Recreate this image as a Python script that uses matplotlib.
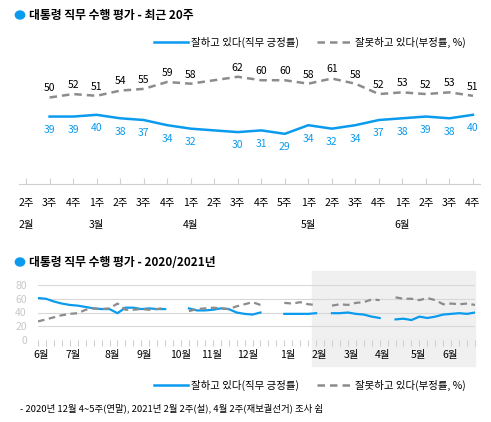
import matplotlib
matplotlib.use("Agg")
import matplotlib.pyplot as plt
import numpy as np
from matplotlib.patches import Rectangle
from matplotlib.lines import Line2D

plt.rcParams['font.family'] = ['Noto Sans CJK KR', 'DejaVu Sans']

BLUE = '#0A9BEF'
GRAY = '#8C8C8C'

# ---- top chart data (recent 20 weeks) ----
week_labels = ['2주','3주','4주','1주','2주','3주','4주','1주','2주','3주','4주','5주',
               '1주','2주','3주','4주','1주','2주','3주','4주']
month_labels = {0: '2월', 3: '3월', 7: '4월', 12: '5월', 16: '6월'}
top_idx = [1,2,3,4,5,6,7,9,10,11,12,13,14,15,16,17,18,19]
top_pos = [39,39,40,38,37,34,32,30,31,29,34,32,34,37,38,39,38,40]
top_neg = [50,52,51,54,55,59,58,62,60,60,58,61,58,52,53,52,53,51]

# ---- bottom chart data (weekly, 2020-06 .. 2021-06), None = no survey ----
bot_pos = [61,60,56,53,51,50,48,46,45,45,39,47,47,45,46,45,45,None,None,
           46,43,43,44,46,45,40,38,37,40,None,None,38,38,38,38,39,None,
           39,39,40,38,37,34,32,None,30,31,29,34,32,34,37,38,39,38,40]
bot_neg = [27,30,33,36,38,39,44,46,45,46,53,44,44,45,44,45,47,None,None,
           42,45,46,47,46,45,49,52,55,51,None,None,54,53,55,52,51,None,
           50,52,51,54,55,59,58,None,62,60,60,58,61,58,52,53,52,53,51]
bot_months = {0:'6월',4:'7월',9:'8월',13:'9월',17.5:'10월',21.5:'11월',26:'12월',
              31:'1월',35:'2월',39:'3월',43:'4월',47.5:'5월',51.5:'6월'}

fig = plt.figure(figsize=(4.91,4.22), dpi=100)
W, H = 491, 422
def fx(px): return px/W
def fy(py): return 1-py/H

# shaded period (behind everything)
fig.patches.append(Rectangle((fx(312), fy(366)), fx(475-312), (366-271)/H, transform=fig.transFigure,
                             color='#f0f0f0', zorder=-10, figure=fig))

# titles
for ty, txt in [(15, '대통령 직무 수행 평가 - 최근 20주'), (262, '대통령 직무 수행 평가 - 2020/2021년')]:
    fig.patches.append(plt.Circle((fx(20), fy(ty)), 0.0095, transform=fig.transFigure,
                                  color=BLUE, figure=fig))
    fig.text(fx(29), fy(ty), txt, fontsize=8.5, fontweight='bold', va='center', ha='left')

def legend(y):
    fig.add_artist(Line2D([fx(154), fx(188)], [fy(y), fy(y)], color=BLUE, lw=1.8, transform=fig.transFigure))
    fig.text(fx(191), fy(y), '잘하고 있다(직무 긍정률)', fontsize=7.5, va='center')
    fig.add_artist(Line2D([fx(317), fx(352)], [fy(y), fy(y)], color=GRAY, lw=1.8, ls=(0,(3,2)), transform=fig.transFigure))
    fig.text(fx(355), fy(y), '잘못하고 있다(부정률, %)', fontsize=7.5, va='center')
legend(42); legend(385)

# ---- top axes ----
ax = fig.add_axes([fx(19), fy(184), fx(461), 147/H])
ax.patch.set_alpha(0)
ax.plot(top_idx, top_pos, color=BLUE, lw=1.8)
ax.plot(top_idx, top_neg, color=GRAY, lw=1.8, ls=(0,(3,2)))
for x, p, n in zip(top_idx, top_pos, top_neg):
    ax.annotate(str(p), (x, p), xytext=(0,-6), textcoords='offset points', ha='center', va='top', color=BLUE, fontsize=7.5)
    ax.annotate(str(n), (x, n), xytext=(0,3), textcoords='offset points', ha='center', va='bottom', color='black', fontsize=7.5)
ax.set_xlim(-0.3, 19.3); ax.set_ylim(0, 85)
for s in ['top','right','left']: ax.spines[s].set_visible(False)
ax.spines['bottom'].set_color('#d0d0d0')
ax.set_yticks([])
ax.set_xticks(range(20))
ax.set_xticklabels(week_labels, fontsize=7.5)
ax.tick_params(axis='x', direction='in', length=4, color='#d0d0d0', pad=10)
for k, m in month_labels.items():
    ax.text(k, -0.28, m, transform=ax.get_xaxis_transform(), ha='center', va='center', fontsize=7.5)

# ---- bottom axes ----
bx = fig.add_axes([fx(38), fy(340), fx(437), 55/H])
bx.patch.set_alpha(0)
xs = np.arange(len(bot_pos))
bp = np.array([np.nan if v is None else v for v in bot_pos], float)
bn = np.array([np.nan if v is None else v for v in bot_neg], float)
bx.plot(xs, bp, color=BLUE, lw=1.6)
bx.plot(xs, bn, color=GRAY, lw=1.6, ls=(0,(3,2)))
bx.set_xlim(0, 55); bx.set_ylim(0, 80)
bx.set_yticks([0,20,40,60,80])
bx.tick_params(axis='y', length=0, labelcolor='#c8c8c8', labelsize=7.5, pad=8)
bx.grid(axis='y', color='#d8d8d8', lw=0.8)
bx.set_axisbelow(True)
for s in bx.spines.values(): s.set_visible(False)
bx.set_xticks(xs)
bx.set_xticklabels([])
bx.tick_params(axis='x', length=4, color='#d0d0d0')
for k, m in bot_months.items():
    bx.text(k+0.4, -0.27, m, transform=bx.get_xaxis_transform(), ha='center', va='center', fontsize=7.5)

fig.text(fx(20), fy(408), '- 2020년 12월 4~5주(연말), 2021년 2월 2주(설), 4월 2주(재보궐선거) 조사 쉼',
         fontsize=6.8, va='center')

fig.savefig('out.png', dpi=100)
